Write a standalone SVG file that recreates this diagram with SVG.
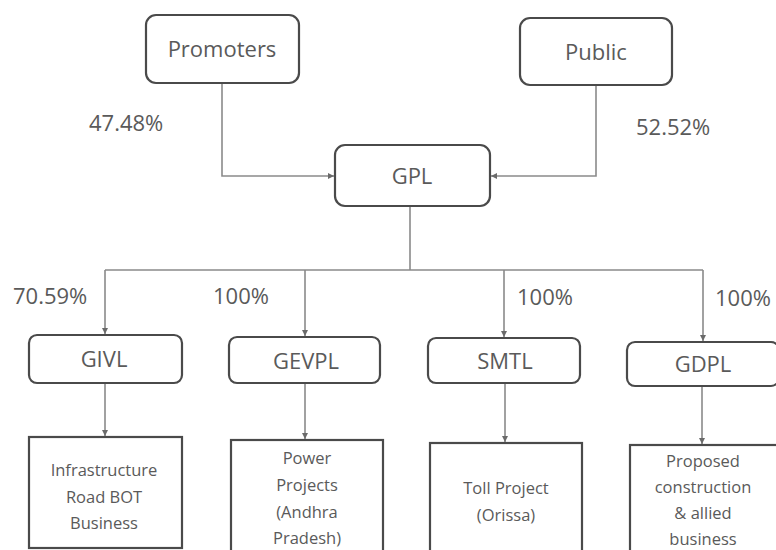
<svg xmlns="http://www.w3.org/2000/svg" width="776" height="550" viewBox="0 0 776 550">
<style>
.box{fill:#fff;stroke:#4a4a4a;stroke-width:2.2}
.t{font-family:"Open Sans","Liberation Sans",sans-serif;fill:#5a5a5a;text-anchor:middle}
.big{font-size:22px}
.sm{font-size:16.5px}
.pct{font-family:"Open Sans","Liberation Sans",sans-serif;fill:#5a5a5a;font-size:22px}
.c{fill:none;stroke:#8a8a8a;stroke-width:1.6}
</style>
<defs>
<marker id="ah" viewBox="0 0 10 10" refX="10" refY="5" markerWidth="6" markerHeight="6" orient="auto" markerUnits="userSpaceOnUse">
<path d="M0,0 L10,5 L0,10 z" fill="#6a6a6a"/>
</marker>
</defs>
<rect width="776" height="550" fill="#fff"/>
<g id="connectors">
<path class="c" d="M222,83 V176 H334" marker-end="url(#ah)"/>
<path class="c" d="M596,86 V176 H491" marker-end="url(#ah)"/>
<path class="c" d="M410,206 V270"/>
<path class="c" d="M105,270 H703"/>
<path class="c" d="M105,270 V334" marker-end="url(#ah)"/>
<path class="c" d="M305,270 V336" marker-end="url(#ah)"/>
<path class="c" d="M504,270 V337" marker-end="url(#ah)"/>
<path class="c" d="M703,270 V341" marker-end="url(#ah)"/>
<path class="c" d="M105,383 V436" marker-end="url(#ah)"/>
<path class="c" d="M305,384 V439" marker-end="url(#ah)"/>
<path class="c" d="M505,383 V442" marker-end="url(#ah)"/>
<path class="c" d="M702,386 V444" marker-end="url(#ah)"/>
</g>
<g id="labels">
<text class="pct" x="89" y="131">47.48%</text>
<text class="pct" x="636" y="135">52.52%</text>
<text class="pct" x="13" y="304">70.59%</text>
<text class="pct" x="213" y="304">100%</text>
<text class="pct" x="517" y="305">100%</text>
<text class="pct" x="715" y="306">100%</text>
</g>
<g id="promoters">
<rect class="box" x="146" y="15" width="153" height="68" rx="10"/>
<text class="t big" x="222" y="57">Promoters</text>
</g>
<g id="public">
<rect class="box" x="520" y="18" width="152" height="67" rx="10"/>
<text class="t big" x="596" y="60">Public</text>
</g>
<g id="gpl">
<rect class="box" x="335" y="145" width="155" height="61" rx="10"/>
<text class="t big" x="412" y="184">GPL</text>
</g>
<g id="givl">
<rect class="box" x="29" y="335" width="153" height="48" rx="8"/>
<text class="t big" x="104" y="367">GIVL</text>
</g>
<g id="gevpl">
<rect class="box" x="229" y="337" width="151" height="46" rx="8"/>
<text class="t big" x="306" y="369">GEVPL</text>
</g>
<g id="smtl">
<rect class="box" x="428" y="338" width="152" height="45" rx="8"/>
<text class="t big" x="505" y="369">SMTL</text>
</g>
<g id="gdpl">
<rect class="box" x="627" y="342" width="152" height="44" rx="8"/>
<text class="t big" x="703" y="372">GDPL</text>
</g>
<g id="infra">
<rect class="box" x="29" y="437" width="153" height="111"/>
<text class="t sm" x="104" y="476">Infrastructure</text>
<text class="t sm" x="104" y="503">Road BOT</text>
<text class="t sm" x="104" y="529">Business</text>
</g>
<g id="power">
<rect class="box" x="231" y="440" width="152" height="116"/>
<text class="t sm" x="307" y="464">Power</text>
<text class="t sm" x="307" y="491">Projects</text>
<text class="t sm" x="307" y="518">(Andhra</text>
<text class="t sm" x="307" y="544">Pradesh)</text>
</g>
<g id="toll">
<rect class="box" x="430" y="443" width="152" height="113"/>
<text class="t sm" x="506" y="494">Toll Project</text>
<text class="t sm" x="506" y="521">(Orissa)</text>
</g>
<g id="proposed">
<rect class="box" x="630" y="445" width="152" height="111"/>
<text class="t sm" x="703" y="467">Proposed</text>
<text class="t sm" x="703" y="493">construction</text>
<text class="t sm" x="703" y="519">&amp; allied</text>
<text class="t sm" x="703" y="545">business</text>
</g>
</svg>
